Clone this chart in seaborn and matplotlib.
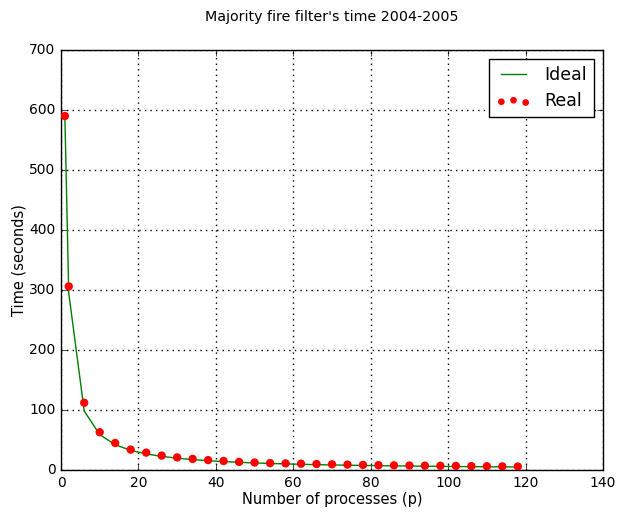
import matplotlib
matplotlib.use("Agg")
import matplotlib.pyplot as plt
import seaborn as sns
import pandas as pd

# Number of processes used in each run
processes = [1, 2, 6, 10, 14, 18, 22, 26, 30, 34, 38, 42, 46, 50, 54, 58,
             62, 66, 70, 74, 78, 82, 86, 90, 94, 98, 102, 106, 110, 114, 118]

# Ideal (linear speed-up) execution time, seconds
ideal_time = [590, 295, 98.3, 59.0, 42.1, 32.8, 26.8, 22.7, 19.7, 17.4, 15.5,
              14.0, 12.8, 11.8, 10.9, 10.2, 9.5, 8.9, 8.4, 8.0, 7.6, 7.2, 6.9,
              6.6, 6.3, 6.0, 5.8, 5.6, 5.4, 5.2, 5.0]

# Measured execution time, seconds
real_time = [590, 306, 112, 63, 45, 34, 29, 24, 21, 18.5, 16.5, 15, 13.5,
             12.5, 11.5, 11, 10.5, 10, 9.5, 9, 8.5, 8, 7.8, 7.5, 7.2, 7, 6.8,
             6.5, 6.3, 6, 5.8]

df = pd.DataFrame({"p": processes, "ideal": ideal_time, "real": real_time})

plt.style.use("classic")
fig = plt.figure(figsize=(6.19, 5.15), dpi=100)
ax = fig.add_axes([61 / 619, 45 / 515, 542 / 619, 420 / 515])

sns.lineplot(data=df, x="p", y="ideal", ax=ax, color="green", lw=1.0,
             label="Ideal")
sns.scatterplot(data=df, x="p", y="real", ax=ax, color="red", s=36,
                edgecolor="none", label="Real", zorder=3)

ax.set_xlim(0, 140)
ax.set_ylim(0, 700)
ax.set_xticks(range(0, 141, 20))
ax.set_yticks(range(0, 701, 100))
ax.grid(True, color="black", linestyle=":", linewidth=1)
ax.set_axisbelow(True)
ax.tick_params(labelsize=10)

ax.set_xlabel("Number of processes (p)", fontsize=10.5, labelpad=2)
ax.set_ylabel("Time (seconds)", fontsize=10.5, labelpad=2)
ax.set_title("Majority fire filter's time 2004-2005", fontsize=10.3, pad=21)
ax.legend(loc="upper right", fontsize=12.5, scatterpoints=3, frameon=True,
          fancybox=False, markerscale=0.8)

fig.savefig("out.png", dpi=100)
